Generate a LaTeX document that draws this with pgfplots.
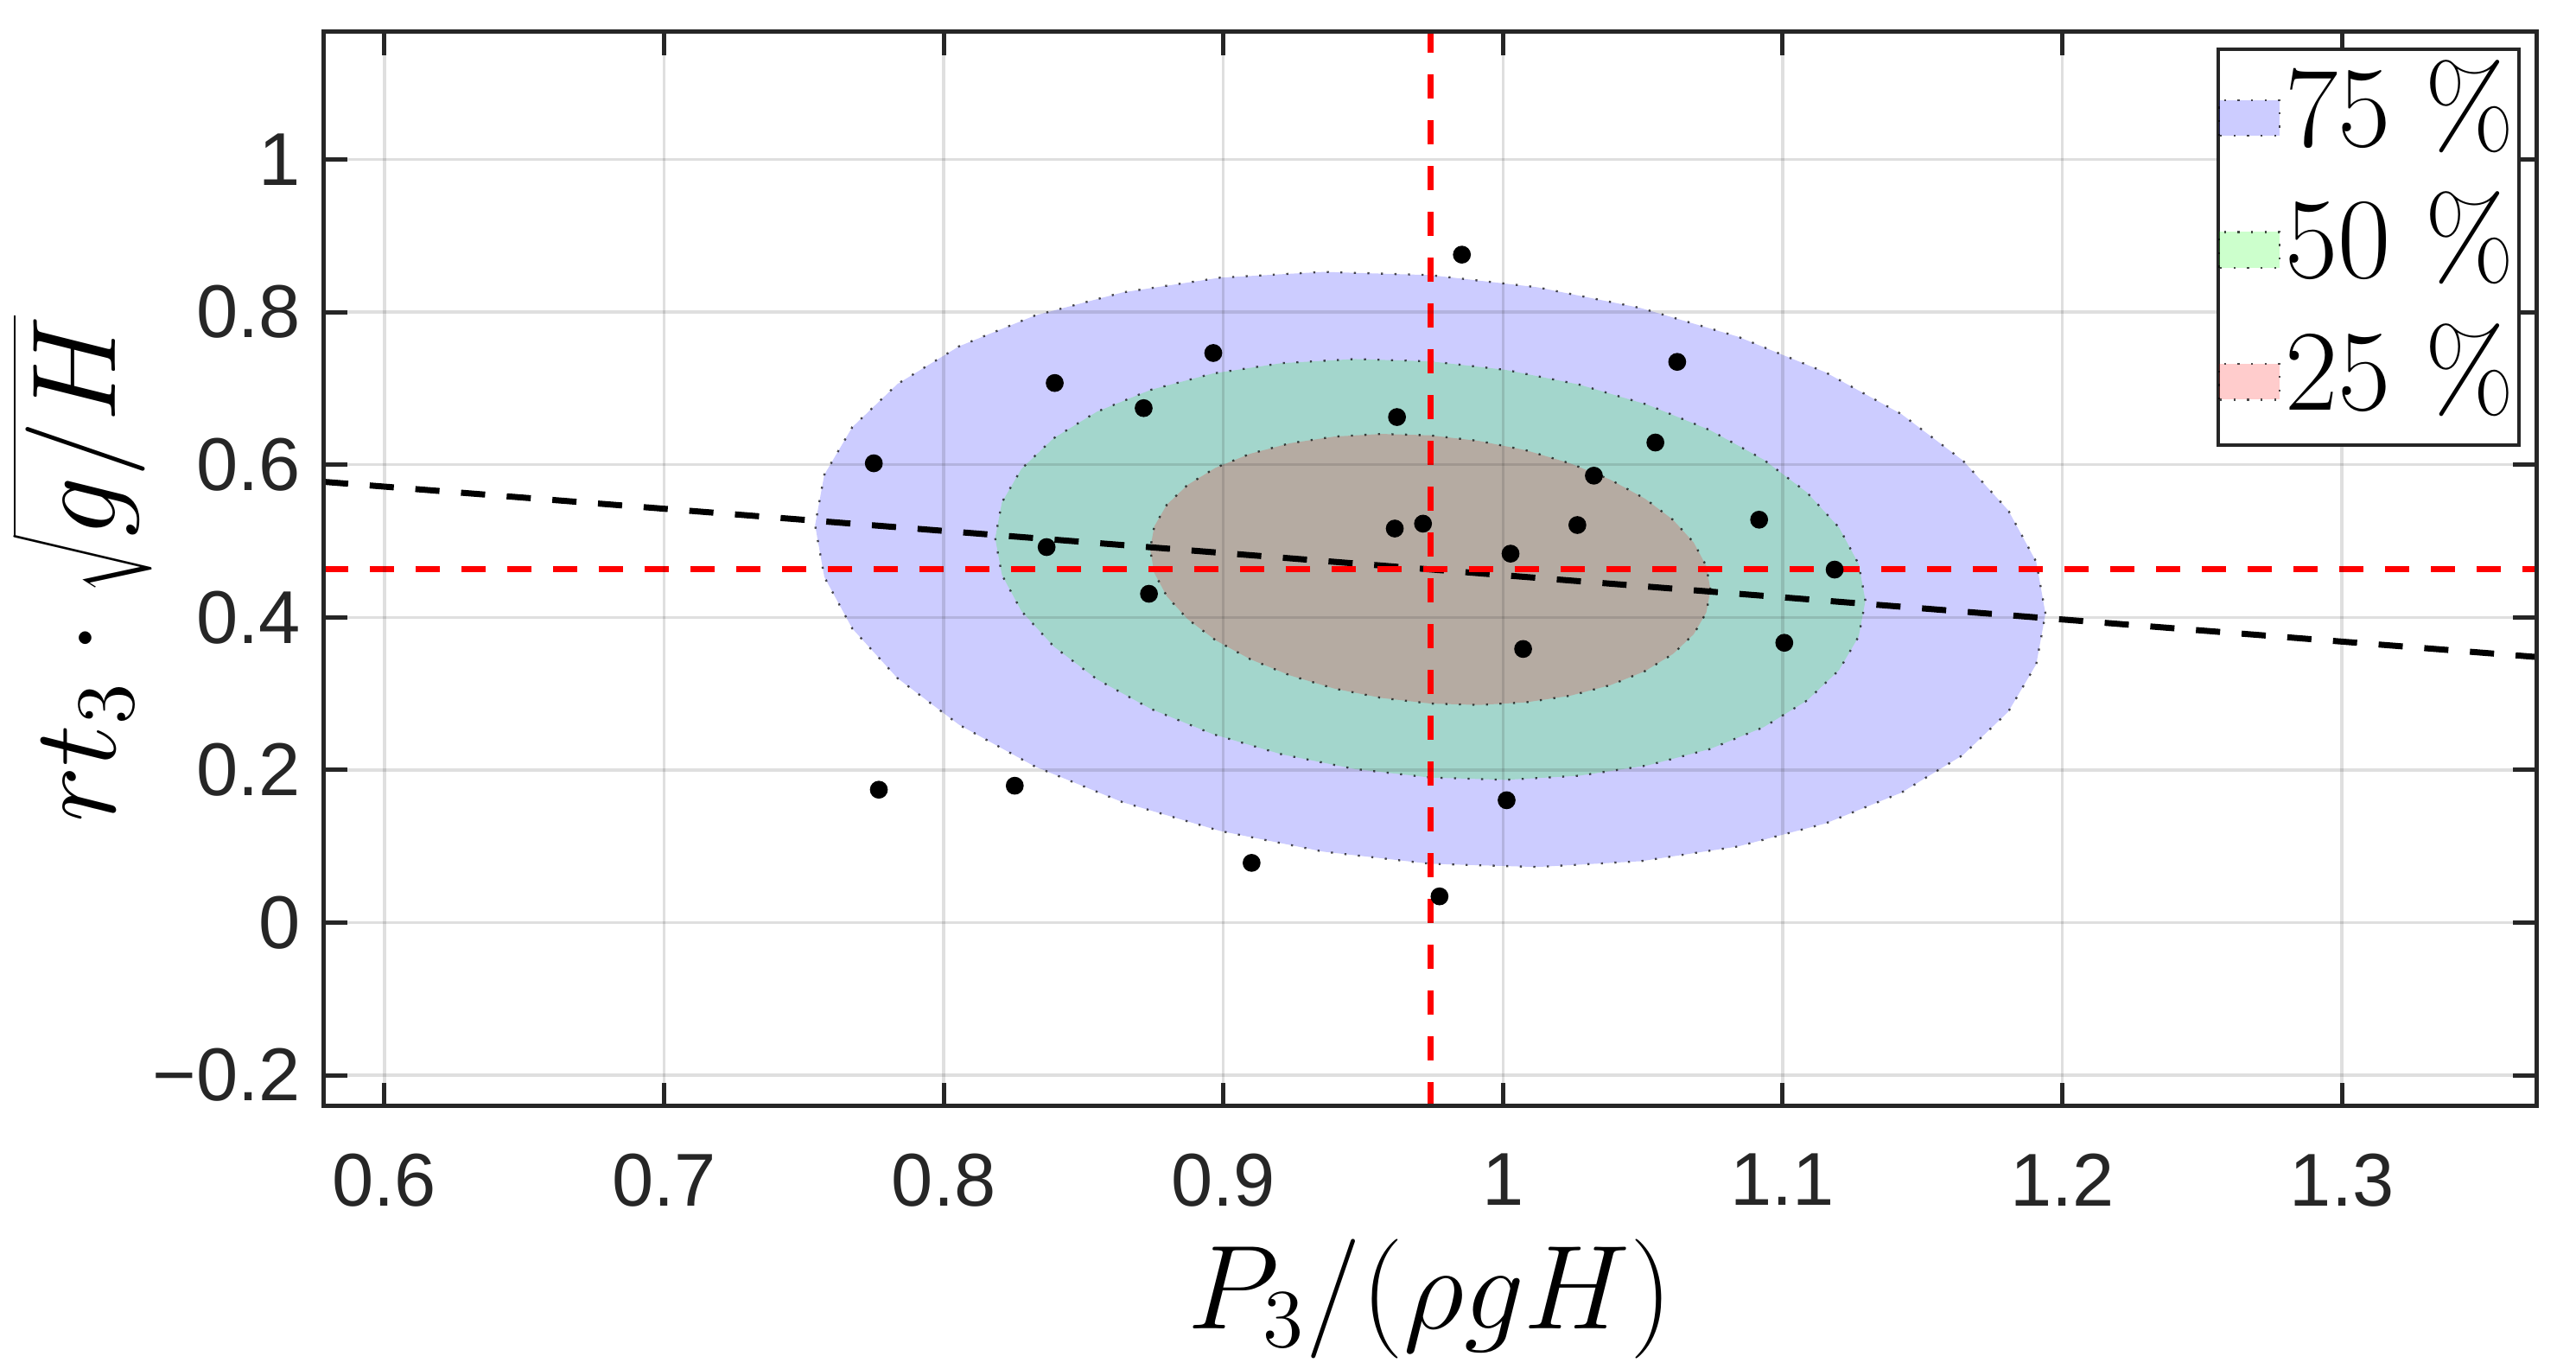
\documentclass[border=0pt]{standalone}
\usepackage{fontspec}
\setsansfont{Liberation Sans}
\usepackage{pgfplots}
\pgfplotsset{compat=1.18}
\definecolor{axgray}{RGB}{38,38,38}

\begin{document}
\begin{tikzpicture}
  \begin{axis}[
      scale only axis, width=384pt, height=186.45pt,
      xmin=0.5784, xmax=1.3695, ymin=-0.2407, ymax=1.167,
      xtick={0.6,0.7,0.8,0.9,1,1.1,1.2,1.3},
      xticklabels={0.6,0.7,0.8,0.9,1,1.1,1.2,1.3},
      ytick={-0.2,0,0.2,0.4,0.6,0.8,1},
      yticklabels={−0.2,0,0.2,0.4,0.6,0.8,1},
      tick align=inside, major tick length=4pt,
      tick style={color=axgray, line width=0.75pt},
      axis line style={color=axgray, line width=0.75pt},
      grid=major,
      major grid style={draw=axgray, line width=0.5pt, draw opacity=0.15},
      axis on top,
      ticklabel style={font=\sffamily\fontsize{13}{15}\selectfont, text=axgray, inner sep=0pt},
      xticklabel style={yshift=-8.1pt},
      yticklabel style={xshift=-3.9pt},
      label style={font=\fontsize{20}{24}\selectfont, inner sep=0pt},
      xlabel={$P_3/(\rho g H)$},
      ylabel={$rt_3\cdot\sqrt{g/H}$},
      xlabel style={at={(rel axis cs:0.5,-0.1228)}, anchor=north},
      ylabel style={at={(rel axis cs:-0.0773,0.5)}, anchor=south},
      legend image code/.code={\draw[#1] (0pt,-3.55pt) rectangle (10.5pt,2.65pt);},
      legend style={at={(rel axis cs:1,1)}, anchor=north east,
        xshift=-2.7pt, yshift=-2.7pt, draw=axgray, line width=0.65pt,
        fill=white, inner sep=0pt, column sep=0pt, row sep=0pt,
        font=\fontsize{20}{24}\selectfont,
        nodes={inner xsep=0.75pt, inner ysep=0pt, text height=16.8pt, text depth=6.1pt}},
    ]

    % 75 % region
    \addplot[fill=blue, fill opacity=0.2, draw=black, draw opacity=0.7,
      line width=0.35pt, dotted] coordinates {
      (1.194,0.4047) (1.1907,0.4726) (1.1807,0.5401) (1.1645,0.6053) (1.1425,0.6662)
      (1.1154,0.7209) (1.084,0.7677) (1.0492,0.8053) (1.0122,0.8325) (0.974,0.8484)
      (0.9358,0.8526) (0.8988,0.845) (0.864,0.8257) (0.8326,0.7954) (0.8055,0.7551)
      (0.7835,0.7058) (0.7673,0.6491) (0.7573,0.5868) (0.754,0.5207) (0.7573,0.4528)
      (0.7673,0.3853) (0.7835,0.3201) (0.8055,0.2592) (0.8326,0.2045) (0.864,0.1577)
      (0.8988,0.1201) (0.9358,0.0929) (0.974,0.077) (1.0122,0.0728) (1.0492,0.0804)
      (1.084,0.0997) (1.1154,0.13) (1.1425,0.1703) (1.1645,0.2196) (1.1807,0.2763)
      (1.1907,0.3386) (1.194,0.4047)} --cycle;

    % 50 % region
    \addplot[fill=green, fill opacity=0.2, draw=black, draw opacity=0.7,
      line width=0.35pt, dotted] coordinates {
      (1.1296,0.4217) (1.1272,0.4697) (1.1202,0.5174) (1.1087,0.5636) (1.0932,0.6066)
      (1.074,0.6453) (1.0518,0.6784) (1.0272,0.705) (1.001,0.7242) (0.974,0.7354)
      (0.947,0.7384) (0.9208,0.733) (0.8962,0.7194) (0.874,0.698) (0.8548,0.6694)
      (0.8393,0.6346) (0.8278,0.5945) (0.8208,0.5505) (0.8184,0.5037) (0.8208,0.4557)
      (0.8278,0.408) (0.8393,0.3619) (0.8548,0.3188) (0.874,0.2801) (0.8962,0.247)
      (0.9208,0.2205) (0.947,0.2012) (0.974,0.19) (1.001,0.187) (1.0272,0.1924)
      (1.0518,0.206) (1.074,0.2274) (1.0932,0.256) (1.1087,0.2909) (1.1202,0.3309)
      (1.1272,0.3749) (1.1296,0.4217)} --cycle;

    % 25 % region
    \addplot[fill=red, fill opacity=0.2, draw=black, draw opacity=0.7,
      line width=0.35pt, dotted] coordinates {
      (1.0742,0.4363) (1.0727,0.4672) (1.0682,0.498) (1.0608,0.5277) (1.0508,0.5554)
      (1.0384,0.5803) (1.0241,0.6016) (1.0083,0.6188) (0.9914,0.6311) (0.974,0.6384)
      (0.9566,0.6403) (0.9397,0.6368) (0.9239,0.6281) (0.9096,0.6143) (0.8972,0.5959)
      (0.8872,0.5734) (0.8798,0.5476) (0.8753,0.5192) (0.8738,0.4891) (0.8753,0.4582)
      (0.8798,0.4274) (0.8872,0.3977) (0.8972,0.37) (0.9096,0.3451) (0.9239,0.3238)
      (0.9397,0.3066) (0.9566,0.2943) (0.974,0.287) (0.9914,0.2851) (1.0083,0.2886)
      (1.0241,0.2973) (1.0384,0.3111) (1.0508,0.3295) (1.0608,0.352) (1.0682,0.3778)
      (1.0727,0.4062) (1.0742,0.4363)} --cycle;

    \legend{75 \%, 50 \%, 25 \%}

    % trend line
    \addplot[forget plot, black, line width=1.05pt, dash pattern=on 4.2pt off 3.75pt]
      coordinates {(0.5784,0.5775) (1.3695,0.348)};
    % reference lines
    \addplot[forget plot, red, line width=1.05pt, dash pattern=on 4.2pt off 3.75pt]
      coordinates {(0.974,-0.2407) (0.974,1.167)};
    \addplot[forget plot, red, line width=1.05pt, dash pattern=on 4.2pt off 3.75pt]
      coordinates {(0.5784,0.4627) (1.3695,0.4627)};

    % measurements
    \addplot[forget plot, only marks, mark=*, mark size=1.35pt, black] coordinates {
      (0.775,0.6018) (0.8397,0.707) (0.8964,0.7463) (0.8715,0.6741) (0.8368,0.492)
      (0.8734,0.4308) (0.7768,0.1741) (0.8254,0.1793) (0.9101,0.0782) (0.9853,0.8752)
      (1.0623,0.7347) (0.9621,0.6624) (1.0545,0.629) (1.0325,0.5856) (0.9613,0.5163)
      (0.9714,0.5227) (1.0266,0.5209) (1.0916,0.5279) (1.0027,0.4834) (1.1186,0.4625)
      (1.0072,0.3585) (1.1006,0.3666) (1.0013,0.1603) (0.9773,0.0343)};
  \end{axis}
  \path ([shift={(-56.25pt,-45.6pt)}]current axis.south west)
    rectangle ([shift={(6.9pt,5.55pt)}]current axis.north east);
\end{tikzpicture}
\end{document}
